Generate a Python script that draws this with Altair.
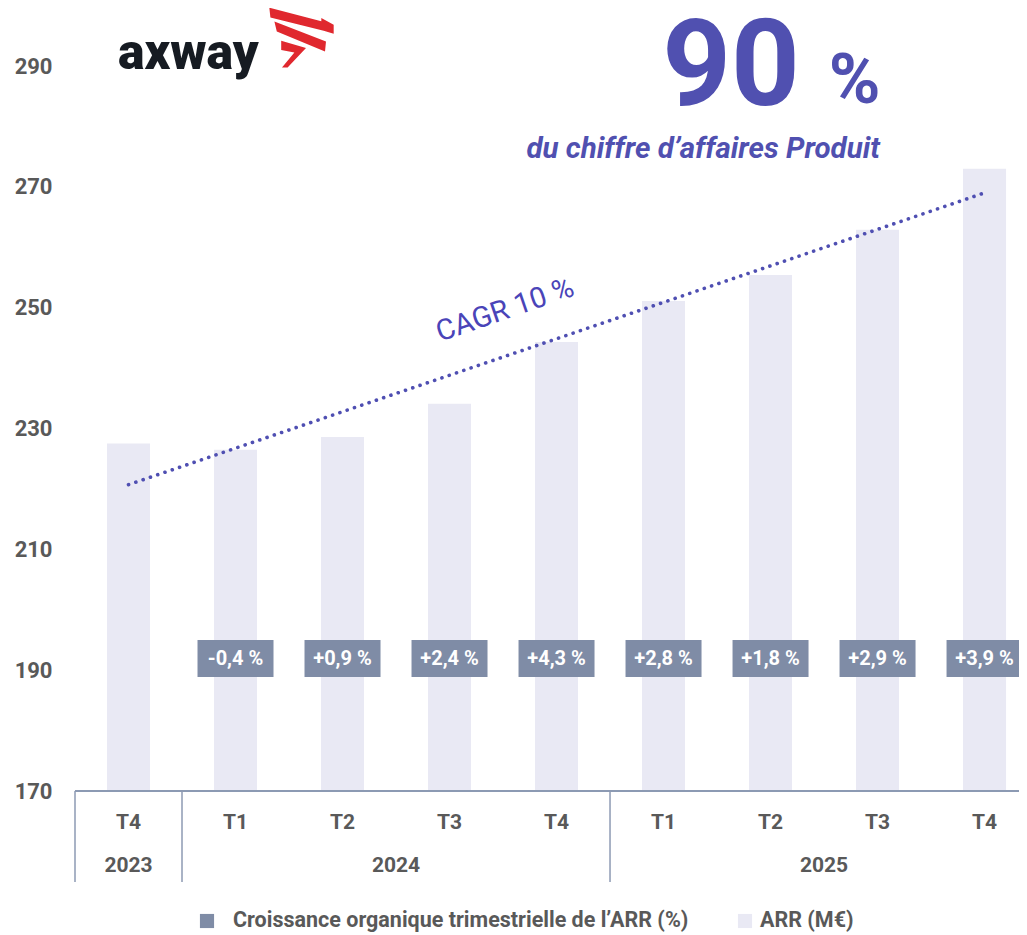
import altair as alt
import pandas as pd

# ---- data ----
quarters = ["T4", "T1", "T2", "T3", "T4", "T1", "T2", "T3", "T4"]
years = ["2023", "2024", "2024", "2024", "2024", "2025", "2025", "2025", "2025"]
arr_values = [227.5, 226.5, 228.6, 234.1, 244.3, 251.1, 255.4, 262.9, 273.0]
growth_labels = ["-0,4 %", "+0,9 %", "+2,4 %", "+4,3 %", "+2,8 %", "+1,8 %", "+2,9 %", "+3,9 %"]
trend_values = [220.7, 269.0]
y_ticks = [170, 190, 210, 230, 250, 270, 290]
legend_labels = ["Croissance organique trimestrielle de l\u2019ARR (%)", "ARR (M\u20ac)"]

FONT = "Roboto"
GREY = "#595959"
BAR = "#E9E9F4"
BOX = "#7F8CA6"
LINE = "#8D9AB3"
PURPLE = "#4F4FB2"

idx = list(range(len(quarters)))
df = pd.DataFrame({"idx": idx, "quarter": quarters, "year": years, "arr": arr_values})
gdf = pd.DataFrame({"idx": idx[1:], "label": growth_labels})
tdf = pd.DataFrame({"idx": [idx[0], idx[-1]], "v": trend_values})
ydf = df.groupby("year").agg(center=("idx", "mean"), start=("idx", "min")).reset_index()
sep = pd.DataFrame({"pos": [s - 0.5 for s in ydf["start"]] + [idx[-1] + 0.5]})

W, H = 944, 783
xs = alt.Scale(domain=[-0.5, 8.322], nice=False, zero=False, padding=0)
ys = alt.Scale(domain=[170, 299.6], nice=False, zero=False, padding=0)

base = alt.Chart(df)

bars = base.mark_bar(width=43, color=BAR).encode(
    x=alt.X("idx:Q", scale=xs, axis=None),
    y=alt.Y("arr:Q", scale=ys, axis=alt.Axis(
        values=y_ticks, title=None, domain=False, ticks=False, tickSize=0, grid=False,
        labelFont=FONT, labelFontSize=22, labelFontWeight="bold", labelColor=GREY,
        labelPadding=23)),
    y2=alt.datum(170),
)

boxes = alt.Chart(gdf).mark_bar(width=76, color=BOX).encode(
    x=alt.X("idx:Q", scale=xs),
    y=alt.value(632), y2=alt.value(669),
)
box_text = alt.Chart(gdf).mark_text(
    font=FONT, fontSize=20, fontWeight="bold", color="white", baseline="middle"
).encode(x=alt.X("idx:Q", scale=xs), y=alt.value(650.5), text="label:N")

trend = alt.Chart(tdf).mark_line(
    strokeDash=[0.1, 7.6], strokeCap="round", strokeWidth=3.6, color=PURPLE
).encode(x=alt.X("idx:Q", scale=xs), y=alt.Y("v:Q", scale=ys))

cagr = alt.Chart(pd.DataFrame({"t": ["CAGR 10 %"]})).mark_text(
    font=FONT, fontSize=29, color="#4A44B8", angle=341, baseline="middle", align="center"
).encode(x=alt.value(430), y=alt.value(302), text="t:N")

big90 = alt.Chart(pd.DataFrame({"t": ["90"]})).mark_text(
    font=FONT, fontSize=120, fontWeight="bold", color="#5050B0", align="center", baseline="alphabetic"
).encode(x=alt.value(656), y=alt.value(97), text="t:N")
pct = alt.Chart(pd.DataFrame({"t": ["%"]})).mark_text(
    font=FONT, fontSize=70, fontWeight="bold", color="#5050B0", align="center", baseline="alphabetic"
).encode(x=alt.value(779.5), y=alt.value(95), text="t:N")
sub = alt.Chart(pd.DataFrame({"t": ["du chiffre d\u2019affaires Produit"]})).mark_text(
    font=FONT, fontSize=29.5, fontWeight="bold", fontStyle="italic", color="#5050B0",
    align="right", baseline="alphabetic"
).encode(x=alt.value(805), y=alt.value(150), text="t:N")

logo_text = alt.Chart(pd.DataFrame({"t": ["axway"]})).mark_text(
    font=FONT, fontSize=50, fontWeight=900, color="#161B22", align="left", baseline="alphabetic"
).encode(x=alt.value(43), y=alt.value(61), text="t:N")

logo_path = (
    "M-0.817,-0.808 L0.483,-0.467 L0.483,-0.55 L0.792,-0.383 L0.792,-0.158 "
    "L0.542,-0.23 L-0.79,-0.56 Z "
    "M-0.69,-0.46 L0.6,0.04 L0.575,0.29 L-0.63,-0.21 Z "
    "M-0.52,0.02 L0.1,0.2 L-0.36,0.69 L-0.5,0.69 L-0.19,0.31 L-0.52,0.25 Z"
)
logo_mark = alt.Chart(pd.DataFrame({"t": ["logo"]})).mark_point(
    shape=logo_path, filled=True, color="#E0282E", size=6400, opacity=1, strokeWidth=0
).encode(x=alt.value(227), y=alt.value(32))

# category axis (two levels)
axis_line = base.mark_rule(color=LINE, strokeWidth=1.5).encode(
    x=alt.value(0), x2=alt.value(W), y=alt.value(H)
)
seps = alt.Chart(sep).mark_rule(color=LINE, strokeWidth=1.5).encode(
    x=alt.X("pos:Q", scale=xs), y=alt.value(H), y2=alt.value(874)
)
q_text = base.mark_text(font=FONT, fontSize=21, fontWeight="bold", color=GREY, baseline="middle").encode(
    x=alt.X("idx:Q", scale=xs), y=alt.value(815), text="quarter:N"
)
y_text = alt.Chart(ydf).mark_text(font=FONT, fontSize=21, fontWeight="bold", color=GREY, baseline="middle").encode(
    x=alt.X("center:Q", scale=xs), y=alt.value(858), text="year:N"
)

# legend
LEG_Y = 913
leg1 = alt.Chart(pd.DataFrame({"t": [legend_labels[0]]}))
leg_sq1 = leg1.mark_square(size=200, color=BOX, opacity=1).encode(x=alt.value(132), y=alt.value(LEG_Y))
leg_tx1 = leg1.mark_text(font=FONT, fontSize=21.5, fontWeight="bold", color=GREY, align="left", baseline="middle").encode(
    x=alt.value(158), y=alt.value(LEG_Y), text="t:N")
leg2 = alt.Chart(pd.DataFrame({"t": [legend_labels[1]]}))
leg_sq2 = leg2.mark_square(size=200, color=BAR, opacity=1).encode(x=alt.value(670), y=alt.value(LEG_Y))
leg_tx2 = leg2.mark_text(font=FONT, fontSize=21.5, fontWeight="bold", color=GREY, align="left", baseline="middle").encode(
    x=alt.value(685), y=alt.value(LEG_Y), text="t:N")

chart = alt.layer(
    bars, boxes, box_text, trend, cagr, big90, pct, sub, logo_text, logo_mark,
    axis_line, seps, q_text, y_text, leg_sq1, leg_tx1, leg_sq2, leg_tx2
).properties(
    width=W, height=H,
    padding={"left": 67, "top": 0, "right": 0, "bottom": 143},
    autosize=alt.AutoSizeParams(type="none"),
).configure_view(stroke=None)

chart.save("out.html", embed_options={"renderer": "svg", "actions": False})
